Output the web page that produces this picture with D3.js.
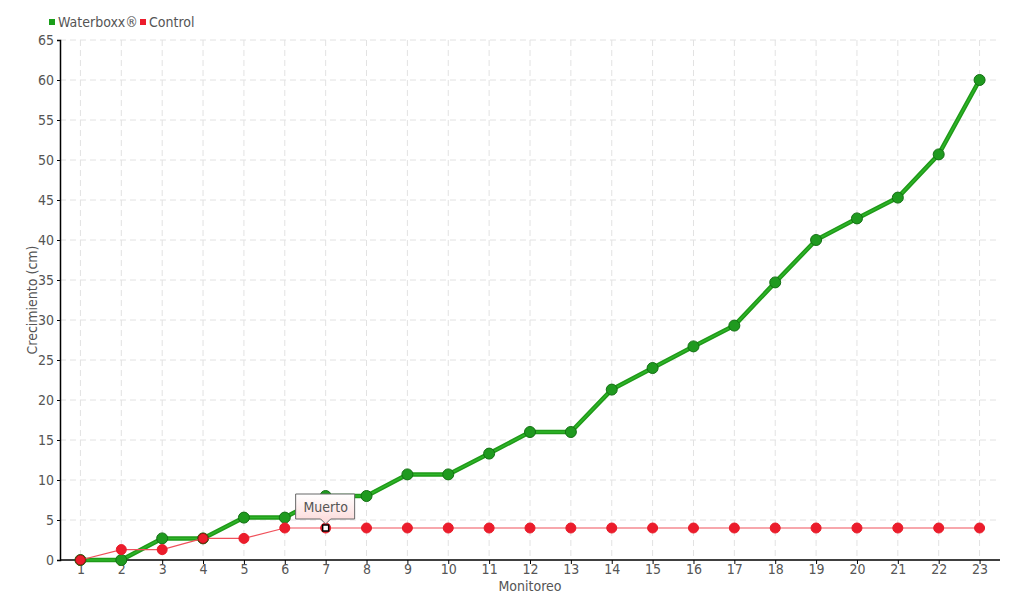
<!DOCTYPE html>
<html><head><meta charset="utf-8">
<script src="https://cdnjs.cloudflare.com/ajax/libs/d3/7.8.5/d3.min.js"></script>
<style>
body{margin:0;background:#fff;}
text{font-family:"DejaVu Sans Condensed","DejaVu Sans",sans-serif;font-stretch:condensed;fill:#555;}
</style></head>
<body><svg id="c" width="1020" height="600"></svg>
<script>
const monitoreo = d3.range(1, 24);
const waterboxx = [0,0,2.7,2.7,5.3,5.3,8,8,10.7,10.7,13.3,16,16,21.3,24,26.7,29.3,34.7,40,42.7,45.3,50.7,60];
const control = [0,1.3,1.3,2.7,2.7,4,4,4,4,4,4,4,4,4,4,4,4,4,4,4,4,4,4];
const yTicks = d3.range(0, 66, 5);
const seriesNames = ["Waterboxx®", "Control"];
const tooltipText = "Muerto";
const tooltipIndex = 6;

const FONT = '"DejaVu Sans Condensed","DejaVu Sans",sans-serif';
const svg = d3.select("#c");
const x = d3.scaleLinear().domain([0.5, 23.5]).range([60, 1000]);
const y = d3.scaleLinear().domain([0, 65]).range([560, 40]);

// grid
svg.append("g").selectAll("line").data(yTicks.slice(1)).join("line")
  .attr("x1", 60).attr("x2", 1000).attr("y1", d => y(d)).attr("y2", d => y(d))
  .attr("stroke", "#e2e2e2").attr("stroke-dasharray", "6,4");
svg.append("g").selectAll("line").data(monitoreo).join("line")
  .attr("x1", d => x(d)).attr("x2", d => x(d)).attr("y1", 40).attr("y2", 560)
  .attr("stroke", "#e2e2e2").attr("stroke-dasharray", "6,4");

// axes
const yAxis = svg.append("g").attr("transform", "translate(60,0)")
  .call(d3.axisLeft(y).tickValues(yTicks).tickSize(3).tickPadding(3));
const xAxis = svg.append("g").attr("transform", "translate(0,560)")
  .call(d3.axisBottom(x).tickValues(monitoreo).tickSize(4).tickPadding(0));
[yAxis, xAxis].forEach(a => {
  a.select(".domain").attr("stroke", "#000").attr("stroke-width", 1.5);
  a.selectAll(".tick line").attr("stroke", "#000");
  a.selectAll("text").attr("font-size", 14).style("fill", "#555")
    .style("font-family", FONT).style("font-stretch", "condensed");
});
xAxis.select(".domain").attr("d", "M60,0H1000");

svg.append("text").attr("x", 530).attr("y", 591).attr("text-anchor", "middle")
  .attr("font-size", 14).text("Monitoreo");
svg.append("text").attr("transform", "translate(37,300) rotate(-90)").attr("text-anchor", "middle")
  .attr("font-size", 14).text("Crecimiento (cm)");

// lines
const line = d3.line().x((d, i) => x(monitoreo[i])).y(d => y(d));
svg.append("path").datum(waterboxx).attr("d", line).attr("fill", "none")
  .attr("stroke", "#1f9a18").attr("stroke-width", 4.5).attr("stroke-linejoin", "round");
svg.append("path").datum(waterboxx).attr("d", line).attr("fill", "none")
  .attr("stroke", "#2fb52a").attr("stroke-width", 1.5).attr("stroke-linejoin", "round");
svg.append("g").selectAll("circle").data(waterboxx).join("circle")
  .attr("cx", (d, i) => x(monitoreo[i])).attr("cy", d => y(d)).attr("r", 5.5)
  .attr("fill", "#1f9a1f").attr("stroke", "#137013").attr("stroke-width", 1);

svg.append("path").datum(control).attr("d", line).attr("fill", "none")
  .attr("stroke", "#f0505a").attr("stroke-width", 1.2);
svg.append("g").selectAll("circle").data(control).join("circle")
  .attr("cx", (d, i) => x(monitoreo[i])).attr("cy", d => y(d)).attr("r", 5)
  .attr("fill", "#ec1c2c").attr("stroke", (d, i) => i === 0 || i === 3 ? "#8a1a10" : "#e81c28").attr("stroke-width", 1);

// highlighted point
const hx = x(monitoreo[tooltipIndex]), hy = y(control[tooltipIndex]);
svg.append("rect").attr("x", hx - 3).attr("y", hy - 3).attr("width", 6).attr("height", 6)
  .attr("fill", "#fff").attr("stroke", "#000").attr("stroke-width", 1.5);

// tooltip
const defs = svg.append("defs");
const grad = defs.append("linearGradient").attr("id", "tg").attr("x1", 0).attr("y1", 0).attr("x2", 0).attr("y2", 1);
grad.append("stop").attr("offset", "0%").attr("stop-color", "#fff");
grad.append("stop").attr("offset", "100%").attr("stop-color", "#fcd8d8");
const tw = 59, th = 25, tx = hx - 30, ty = hy - 34;
svg.append("path")
  .attr("d", `M${tx},${ty}H${tx+tw}V${ty+th}H${hx+5}L${hx},${ty+th+5}L${hx-5},${ty+th}H${tx}Z`)
  .attr("fill", "url(#tg)").attr("stroke", "#666").attr("stroke-width", 1);
svg.append("text").attr("x", hx).attr("y", ty + 18).attr("text-anchor", "middle")
  .attr("font-size", 14).text(tooltipText);

// legend
const legColors = ["#1a9e1a", "#ec1c2c"];
const legX = [49, 140];
seriesNames.forEach((n, i) => {
  svg.append("rect").attr("x", legX[i]).attr("y", 19).attr("width", 6).attr("height", 6).attr("fill", legColors[i]);
  svg.append("text").attr("x", legX[i] + 9).attr("y", 27).attr("font-size", 14).text(n);
});
</script></body></html>
